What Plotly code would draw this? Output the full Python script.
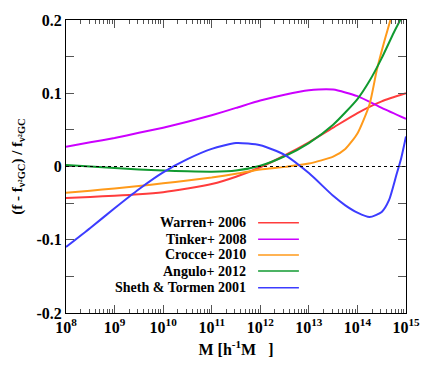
import plotly.graph_objects as go

warren_logm = [8, 8.5, 9, 9.5, 10, 10.5, 11, 11.5, 12, 12.5, 13, 13.5, 14, 14.5, 15]
warren_val = [-0.043, -0.0415, -0.040, -0.038, -0.035, -0.030, -0.024, -0.014, -0.001, 0.015, 0.033, 0.053, 0.073, 0.089, 0.100]

tinker_logm = [8, 8.5, 9, 9.5, 10, 10.5, 11, 11.5, 12, 12.5, 13, 13.5, 14, 14.5, 15]
tinker_val = [0.027, 0.033, 0.039, 0.046, 0.053, 0.061, 0.070, 0.080, 0.090, 0.098, 0.104, 0.105, 0.096, 0.080, 0.065]

crocce_logm = [8, 8.5, 9, 9.5, 10, 10.5, 11, 11.5, 12, 12.5, 13, 13.5, 13.75, 14, 14.25, 14.4, 14.55, 14.7, 14.85, 15]
crocce_val = [-0.036, -0.033, -0.030, -0.0265, -0.023, -0.019, -0.015, -0.010, -0.004, -0.0005, 0.004, 0.0135, 0.024, 0.045, 0.085, 0.132, 0.170, 0.205, 0.245, 0.290]

angulo_logm = [8, 8.5, 9, 9.5, 10, 10.5, 11, 11.5, 12, 12.5, 13, 13.5, 14, 14.25, 14.5, 14.75, 15]
angulo_val = [0.002, 0.0, -0.002, -0.004, -0.0055, -0.0065, -0.007, -0.0055, 0.001, 0.014, 0.032, 0.057, 0.092, 0.117, 0.148, 0.183, 0.215]

sheth_logm = [8, 8.5, 9, 9.5, 10, 10.5, 11, 11.5, 12, 12.5, 13, 13.5, 13.75, 14, 14.25, 14.5, 14.65, 14.8, 14.9, 15]
sheth_val = [-0.110, -0.084, -0.057, -0.031, -0.008, 0.010, 0.024, 0.032, 0.029, 0.016, -0.009, -0.040, -0.053, -0.063, -0.069, -0.062, -0.046, -0.012, 0.011, 0.041]

series = [
    ("Warren+ 2006", warren_logm, warren_val, "#ff3c3c"),
    ("Tinker+ 2008", tinker_logm, tinker_val, "#cc00ff"),
    ("Crocce+ 2010", crocce_logm, crocce_val, "#ff9a1a"),
    ("Angulo+ 2012", angulo_logm, angulo_val, "#109a30"),
    ("Sheth & Tormen 2001", sheth_logm, sheth_val, "#3c3cff"),
]

x_exponents = [8, 9, 10, 11, 12, 13, 14, 15]
y_ticks = [-0.2, -0.1, 0, 0.1, 0.2]
y_ticklabels = ["-0.2", "-0.1", "0", "0.1", "0.2"]

FONT = "Liberation Serif"

fig = go.Figure()
for name, logm, val, color in series:
    fig.add_trace(go.Scatter(
        x=[10 ** v for v in logm],
        y=val,
        mode="lines",
        name=name,
        line=dict(color=color, width=2, shape="spline", smoothing=0.6),
        showlegend=False,
    ))

# zero reference line
fig.add_hline(y=0, line=dict(color="black", width=1, dash="dot"))

# legend drawn gnuplot-style: right-aligned text, line sample to the right
legend_y = [0.308, 0.252, 0.198, 0.143, 0.086]
for (name, _, _, color), ly in zip(series, legend_y):
    fig.add_annotation(
        x=0.535, y=ly, xref="paper", yref="paper", text=name,
        showarrow=False, xanchor="right", yanchor="middle",
        font=dict(family=FONT, size=14, color="black", weight="bold"),
    )
    fig.add_shape(
        type="line", xref="paper", yref="paper",
        x0=0.565, x1=0.685, y0=ly, y1=ly,
        line=dict(color=color, width=1.5),
    )

minor_x = [m * 10 ** e for e in x_exponents[:-1] for m in range(2, 10)]

# page body has an 8px margin, so the figure is shrunk to fit the window
fig.update_layout(
    width=428, height=374,
    margin=dict(l=58, r=30, t=12, b=69),
    paper_bgcolor="white", plot_bgcolor="white",
    font=dict(family=FONT, size=16, color="black", weight="bold"),
    xaxis=dict(
        type="log", range=[8, 15], automargin=False,
        tickvals=[10 ** e for e in x_exponents],
        ticktext=[f"10<sup>{e}</sup>" for e in x_exponents],
        ticks="inside", ticklen=8, tickcolor="#555",
        showline=True, linecolor="black", linewidth=1, mirror="ticks",
        showgrid=False, zeroline=False,
        minor=dict(tickvals=minor_x, ticks="inside", ticklen=4, tickcolor="#555", showgrid=False),
        title=dict(text="M [h<sup>-1</sup>M\u00a0\u00a0\u00a0]", standoff=8,
                   font=dict(family=FONT, size=16, weight="bold")),
    ),
    yaxis=dict(
        range=[-0.2, 0.2], automargin=False,
        tickvals=y_ticks, ticktext=y_ticklabels,
        ticks="inside", ticklen=8, tickcolor="#555",
        showline=True, linecolor="black", linewidth=1, mirror="ticks",
        showgrid=False, zeroline=False,
        minor=dict(dtick=0.05, ticks="inside", ticklen=8, tickcolor="#555", showgrid=False),
        title=dict(text="(f - f<sub>ν²GC</sub>) / f<sub>ν²GC</sub>", standoff=10,
                   font=dict(family=FONT, size=15, weight="bold")),
    ),
)

fig.write_html("out.html")
